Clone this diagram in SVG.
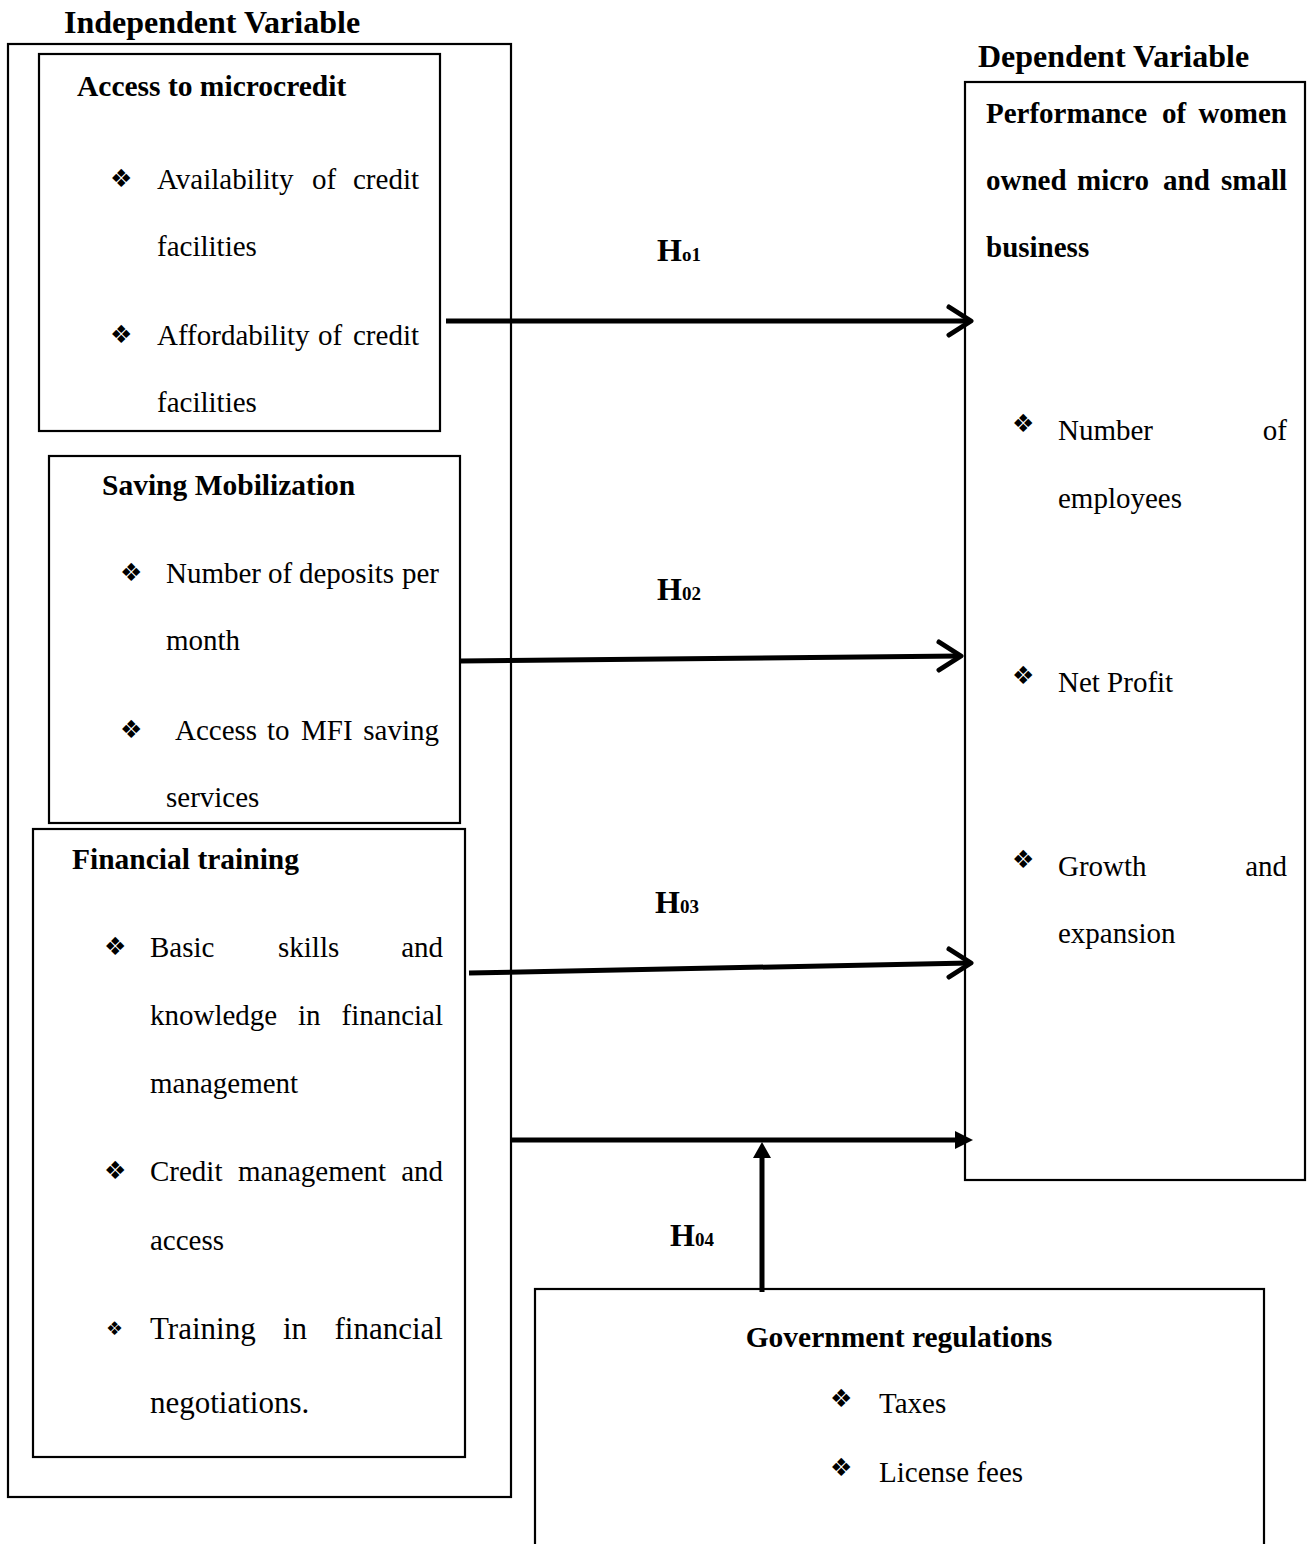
<svg xmlns="http://www.w3.org/2000/svg" width="1307" height="1544" viewBox="0 0 1307 1544">
<style>
.box{fill:none;stroke:#000;stroke-width:2.2}
.hd{font-family:"Liberation Serif",serif;font-weight:bold;font-size:32px;fill:#000}
.ti{font-family:"Liberation Serif",serif;font-weight:bold;font-size:29.5px;fill:#000}
.td{font-family:"Liberation Serif",serif;font-weight:bold;font-size:29px;fill:#000}
.tx{font-family:"Liberation Serif",serif;font-size:29px;fill:#000}
.tl{font-family:"Liberation Serif",serif;font-size:31px;fill:#000}
.bu{font-family:"DejaVu Sans",sans-serif;font-size:25px;fill:#000}
.bs{font-family:"DejaVu Sans",sans-serif;font-size:19px;fill:#000}
.end{text-anchor:end}
.hy{font-family:"Liberation Serif",serif;font-weight:bold;font-size:32px;fill:#000}
.sub{font-size:19px}
.ln{fill:none;stroke:#000;stroke-width:5}
.chev{fill:none;stroke:#000;stroke-width:5;stroke-linecap:round;stroke-linejoin:round}
</style>
<rect width="1307" height="1544" fill="#fff"/>

<g id="independent">
<text class="hd" x="64" y="33">Independent Variable</text>
<rect class="box" x="8" y="44" width="503" height="1453"/>
</g>

<g id="access">
<rect class="box" x="39" y="54" width="401" height="377"/>
<text class="ti" x="77" y="96">Access to microcredit</text>
<text class="bu" x="110" y="187">❖</text>
<text class="tx" y="189"><tspan x="157">Availability</tspan><tspan x="312">of</tspan></text>
<text class="tx end" x="419" y="189">credit</text>
<text class="tx" x="157" y="256">facilities</text>
<text class="bu" x="110" y="343">❖</text>
<text class="tx" y="345"><tspan x="157">Affordability</tspan><tspan x="318">of</tspan></text>
<text class="tx end" x="419" y="345">credit</text>
<text class="tx" x="157" y="412">facilities</text>
</g>

<g id="saving">
<rect class="box" x="49" y="456" width="411" height="367"/>
<text class="ti" x="102" y="495">Saving Mobilization</text>
<text class="bu" x="120" y="581">❖</text>
<text class="tx" y="583"><tspan x="166">Number</tspan><tspan x="268">of</tspan><tspan x="299">deposits</tspan></text>
<text class="tx end" x="439" y="583">per</text>
<text class="tx" x="166" y="650">month</text>
<text class="bu" x="120" y="738">❖</text>
<text class="tx" y="740"><tspan x="175">Access</tspan><tspan x="267">to</tspan><tspan x="301">MFI</tspan></text>
<text class="tx end" x="439" y="740">saving</text>
<text class="tx" x="166" y="807">services</text>
</g>

<g id="training">
<rect class="box" x="33" y="829" width="432" height="628"/>
<text class="ti" x="72" y="869">Financial training</text>
<text class="bu" x="104" y="955">❖</text>
<text class="tx" y="957"><tspan x="150">Basic</tspan><tspan x="278">skills</tspan></text>
<text class="tx end" x="443" y="957">and</text>
<text class="tx" y="1025"><tspan x="150">knowledge</tspan><tspan x="298">in</tspan></text>
<text class="tx end" x="443" y="1025">financial</text>
<text class="tx" x="150" y="1093">management</text>
<text class="bu" x="104" y="1179">❖</text>
<text class="tx" y="1181"><tspan x="150">Credit</tspan><tspan x="238">management</tspan></text>
<text class="tx end" x="443" y="1181">and</text>
<text class="tx" x="150" y="1250">access</text>
<text class="bs" x="106" y="1335">❖</text>
<text class="tl" y="1339"><tspan x="150">Training</tspan><tspan x="283">in</tspan></text>
<text class="tl end" x="443" y="1339">financial</text>
<text class="tl" x="150" y="1413">negotiations.</text>
</g>

<g id="dependent">
<text class="hd" x="978" y="67">Dependent Variable</text>
<rect class="box" x="965" y="82" width="340" height="1098"/>
<text class="td" y="123"><tspan x="986">Performance</tspan><tspan x="1162">of</tspan></text>
<text class="td end" x="1287" y="123">women</text>
<text class="td" y="190"><tspan x="986">owned</tspan><tspan x="1077">micro</tspan><tspan x="1163">and</tspan></text>
<text class="td end" x="1287" y="190">small</text>
<text class="td" x="986" y="257">business</text>
<text class="bu" x="1012" y="432">❖</text>
<text class="tx" x="1058" y="440">Number</text>
<text class="tx end" x="1287" y="440">of</text>
<text class="tx" x="1058" y="508">employees</text>
<text class="bu" x="1012" y="684">❖</text>
<text class="tx" x="1058" y="692">Net Profit</text>
<text class="bu" x="1012" y="868">❖</text>
<text class="tx" x="1058" y="876">Growth</text>
<text class="tx end" x="1287" y="876">and</text>
<text class="tx" x="1058" y="943">expansion</text>
</g>

<g id="government">
<rect class="box" x="535" y="1289" width="729" height="300"/>
<text class="ti" x="899" y="1347" text-anchor="middle">Government regulations</text>
<text class="bu" x="830" y="1407">❖</text>
<text class="tx" x="879" y="1413">Taxes</text>
<text class="bu" x="830" y="1476">❖</text>
<text class="tx" x="879" y="1482">License fees</text>
</g>

<g id="connectors">
<line class="ln" x1="446" y1="321" x2="970" y2="321"/>
<polyline class="chev" points="949,307 971,321 949,335"/>
<text class="hy" x="657" y="261">H<tspan class="sub">o1</tspan></text>

<line class="ln" x1="460" y1="661" x2="960" y2="656"/>
<polyline class="chev" points="939,642 961,656 939,670"/>
<text class="hy" x="657" y="600">H<tspan class="sub">02</tspan></text>

<line class="ln" x1="469" y1="973" x2="970" y2="963"/>
<polyline class="chev" points="949,949 971,963 949,977"/>
<text class="hy" x="655" y="913">H<tspan class="sub">03</tspan></text>

<line class="ln" x1="511" y1="1140" x2="958" y2="1140"/>
<polygon points="973,1140 955,1131 955,1149" fill="#000"/>
<line class="ln" x1="762" y1="1292" x2="762" y2="1154"/>
<polygon points="762,1142 753,1158 771,1158" fill="#000"/>
<text class="hy" x="670" y="1246">H<tspan class="sub">04</tspan></text>
</g>
</svg>
